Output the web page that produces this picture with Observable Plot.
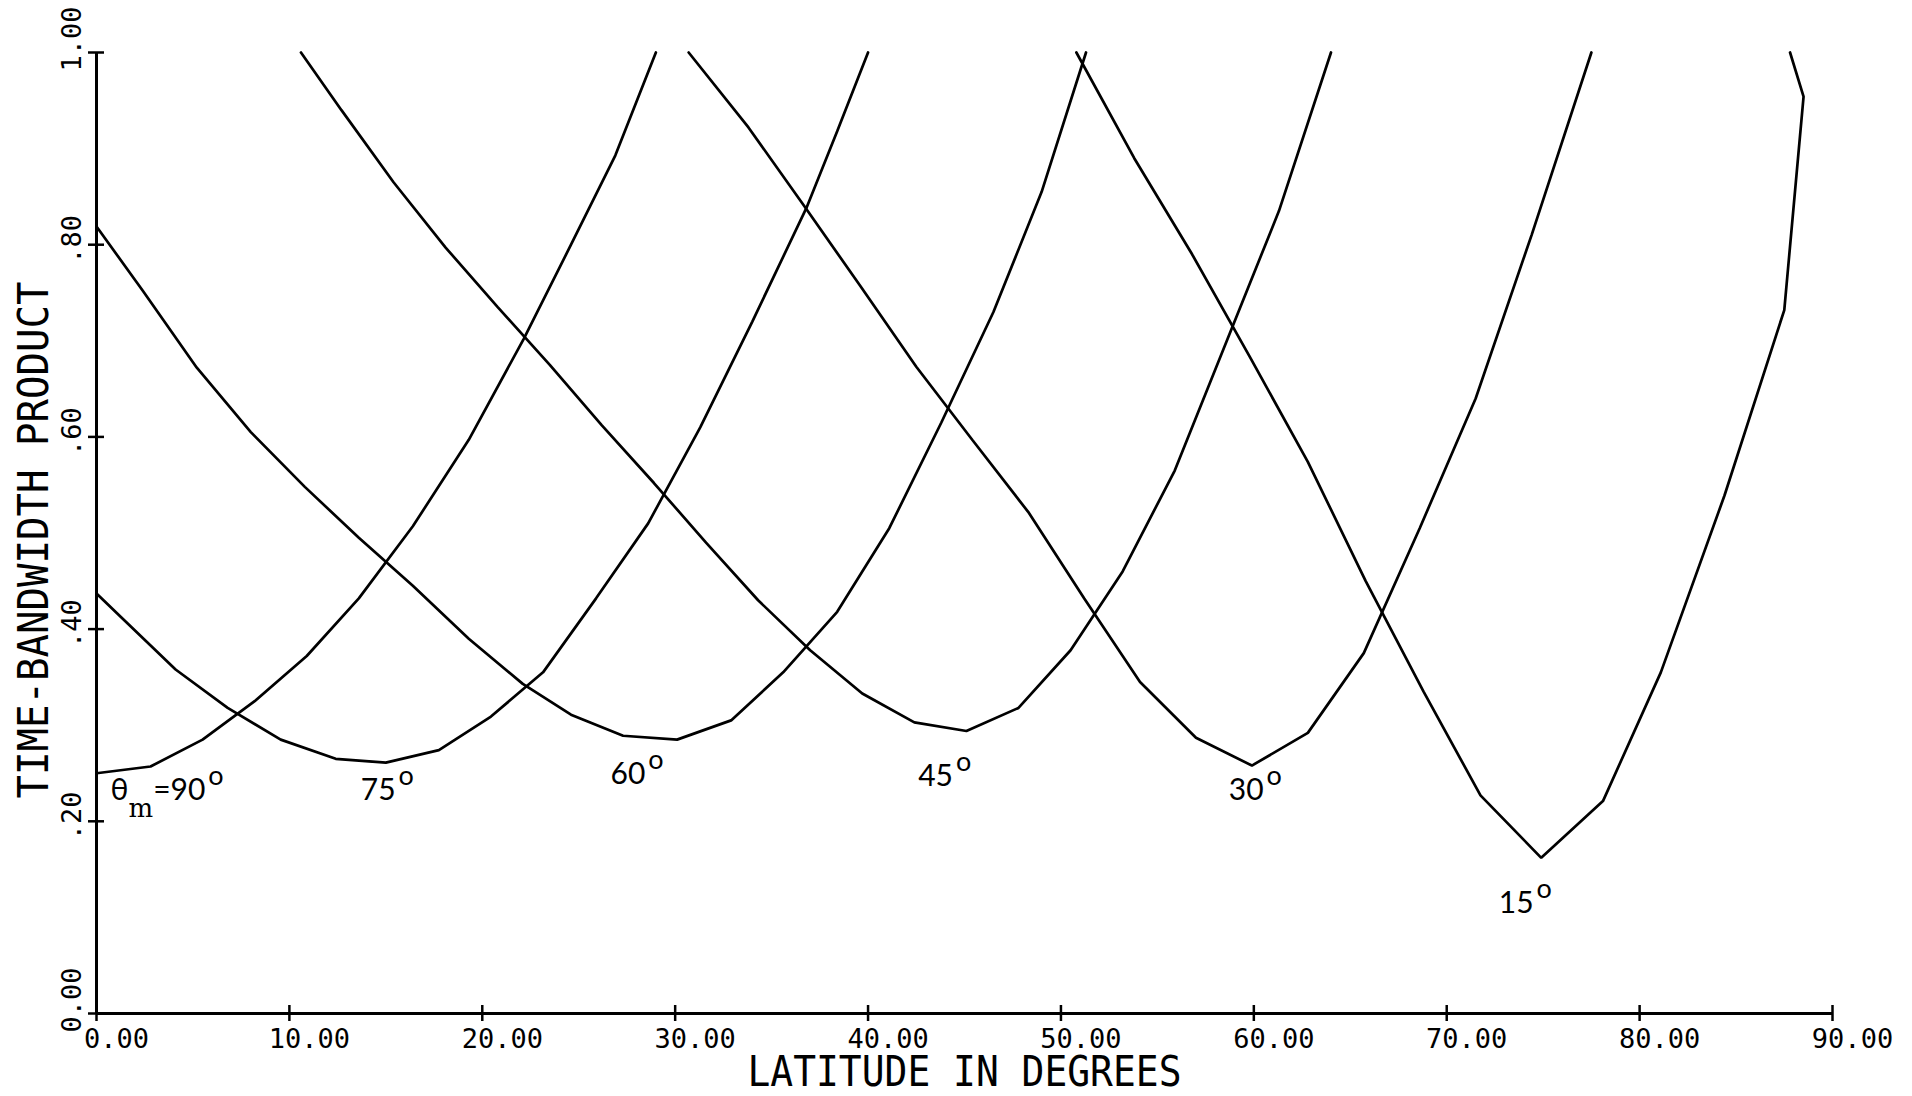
<!DOCTYPE html>
<html>
<head>
<meta charset="utf-8">
<script src="https://cdn.jsdelivr.net/npm/d3@7"></script>
<script src="https://cdn.jsdelivr.net/npm/@observablehq/plot@0.6"></script>
<style>
  html, body { margin: 0; padding: 0; background: #fff; overflow: hidden; }
  #chart { width: 1912px; height: 1096px; }
</style>
</head>
<body>
<div id="chart"></div>
<script>
// ---- axis ticks ----
const xTicks = [0, 10, 20, 30, 40, 50, 60, 70, 80, 90];
const xTickLabels = ["0.00", "10.00", "20.00", "30.00", "40.00", "50.00", "60.00", "70.00", "80.00", "90.00"];
const yTicks = [0, 0.2, 0.4, 0.6, 0.8, 1.0];
const yTickLabels = ["0.00", ".20", ".40", ".60", ".80", "1.00"];
const xTitle = "LATITUDE IN DEGREES";
const yTitle = "TIME-BANDWIDTH PRODUCT";

// ---- series (theta_m) ----
const seriesNames = ["90", "75", "60", "45", "30", "15"];

const lat90 = [0, 2.8, 5.5, 8.2, 10.9, 13.6, 16.4, 19.3, 22.15, 24.6, 26.9, 29.0];
const tbp90 = [0.250, 0.257, 0.285, 0.325, 0.372, 0.432, 0.507, 0.597, 0.702, 0.800, 0.893, 1.000];

const lat75 = [0, 1.4, 4.1, 6.8, 9.55, 12.4, 15.0, 17.75, 20.45, 23.15, 25.9, 28.6, 31.3, 34.0, 36.8, 38.4, 40.0];
const tbp75 = [0.437, 0.410, 0.358, 0.318, 0.285, 0.265, 0.261, 0.274, 0.309, 0.355, 0.432, 0.510, 0.610, 0.720, 0.838, 0.918, 1.000];

const lat60 = [0, 2.4, 5.2, 8.0, 10.8, 13.6, 16.4, 19.3, 22.1, 24.6, 27.3, 30.1, 32.9, 35.6, 38.4, 41.1, 43.8, 46.5, 49.0, 51.3];
const tbp60 = [0.819, 0.752, 0.672, 0.605, 0.548, 0.495, 0.445, 0.390, 0.343, 0.311, 0.289, 0.285, 0.305, 0.355, 0.418, 0.505, 0.615, 0.730, 0.855, 1.000];

const lat45 = [10.6, 12.7, 15.4, 18.1, 20.8, 23.5, 26.2, 28.9, 31.6, 34.3, 37.0, 39.7, 42.4, 45.1, 47.8, 50.5, 53.2, 55.9, 58.6, 61.3, 64.0];
const tbp45 = [1.000, 0.940, 0.865, 0.797, 0.735, 0.675, 0.612, 0.552, 0.490, 0.430, 0.378, 0.333, 0.303, 0.294, 0.318, 0.378, 0.460, 0.565, 0.700, 0.835, 1.000];

const lat30 = [30.7, 33.8, 36.7, 39.6, 42.5, 45.4, 48.3, 51.2, 54.1, 57.0, 59.9, 62.8, 65.7, 68.6, 71.5, 74.4, 77.5];
const tbp30 = [1.000, 0.922, 0.840, 0.757, 0.673, 0.597, 0.522, 0.432, 0.345, 0.287, 0.258, 0.292, 0.375, 0.505, 0.640, 0.810, 1.000];

const lat15 = [50.8, 53.8, 56.8, 59.8, 62.8, 65.8, 68.8, 71.75, 74.9, 78.1, 81.1, 84.4, 87.5, 88.5, 87.8];
const tbp15 = [1.000, 0.890, 0.790, 0.683, 0.574, 0.450, 0.335, 0.227, 0.162, 0.221, 0.355, 0.539, 0.732, 0.954, 1.000];

// ---- curve labels ----
const labelText = ["θm=90", "75", "60", "45", "30", "15"];
const labelLat = [0.73, 13.7, 26.65, 42.6, 58.7, 72.7];
const labelTbp = [0.222, 0.222, 0.239, 0.237, 0.222, 0.105];

// ---- build tables ----
const lats = [lat90, lat75, lat60, lat45, lat30, lat15];
const tbps = [tbp90, tbp75, tbp60, tbp45, tbp30, tbp15];
const rows = seriesNames.flatMap((name, s) =>
  lats[s].map((lat, i) => ({series: name, lat, tbp: tbps[s][i]})));
const labels = labelText.map((t, i) => ({text: t, lat: labelLat[i], tbp: labelTbp[i]}));

const mono = "'DejaVu Sans Mono', 'Liberation Mono', monospace";
const labelFont = "Lato, 'Open Sans', 'DejaVu Sans', sans-serif";

const plot = Plot.plot({
  width: 1912,
  height: 1096,
  marginLeft: 96,
  marginRight: 80,
  marginTop: 52,
  marginBottom: 83,
  style: {background: "#fff", color: "#000", fontFamily: mono, fontSize: "26px"},
  x: {domain: [0, 90]},
  y: {domain: [0, 1]},
  marks: [
    // axis lines
    Plot.ruleX([0], {stroke: "#000", strokeWidth: 3}),
    Plot.ruleY([0], {stroke: "#000", strokeWidth: 3}),
    // crossing tick marks
    Plot.axisX({ticks: xTicks, tickSize: 16, dy: -8, fill: "none", strokeWidth: 2.5, label: null}),
    Plot.axisY({ticks: yTicks, tickSize: 16, dx: 8, fill: "none", strokeWidth: 2.5, label: null}),
    // tick labels
    Plot.axisX({
      ticks: xTicks, tickSize: 0, tickPadding: 15, dx: 20,
      tickFormat: d => xTickLabels[xTicks.indexOf(d)],
      fontSize: 27, fontFamily: mono, label: null
    }),
    Plot.axisY({
      ticks: yTicks, tickSize: 0, tickPadding: 16, tickRotate: -90,
      textAnchor: "start", lineAnchor: "bottom", dy: 19,
      tickFormat: d => yTickLabels[yTicks.indexOf(d)],
      fontSize: 27, fontFamily: mono, label: null
    }),
    // curves
    Plot.line(rows, {x: "lat", y: "tbp", z: "series", stroke: "#000", strokeWidth: 2.7, strokeLinejoin: "miter"}),
    // curve labels
    Plot.text(labels, {
      x: "lat", y: "tbp", text: "text", textAnchor: "start", lineAnchor: "bottom",
      fontSize: 30, fontFamily: labelFont, fill: "#000"
    }),
    // axis titles
    Plot.text([xTitle], {frameAnchor: "bottom", textAnchor: "middle", dy: 72, lineAnchor: "bottom", fontSize: 43, fontFamily: mono, fill: "#000"}),
    Plot.text([yTitle], {frameAnchor: "left", textAnchor: "middle", rotate: -90, dx: -49, dy: 7, lineAnchor: "bottom", fontSize: 43, fontFamily: mono, fill: "#000"})
  ]
});

// Typeset: theta with subscript m, superscript degree circles, condensed titles
const svg = d3.select(plot);
const labelSet = new Set(labelText);
svg.selectAll("text").each(function () {
  const t = this.textContent;
  const sel = d3.select(this);
  if (labelSet.has(t) && this.childElementCount === 0) {
    sel.text(null);
    if (t.startsWith("θm")) {
      sel.append("tspan").text("θ");
      sel.append("tspan").attr("dy", 17).attr("font-size", 26)
        .attr("font-family", "'DejaVu Serif', 'Liberation Serif', serif").text("m");
      sel.append("tspan").attr("dy", -17).text(t.slice(2));
    } else {
      sel.append("tspan").text(t);
    }
    sel.append("tspan").attr("dy", -15).attr("dx", 3).attr("font-size", 27).text("o");
  } else if (t === xTitle) {
    sel.attr("textLength", 434).attr("lengthAdjust", "spacingAndGlyphs");
  } else if (t === yTitle) {
    sel.attr("textLength", 517).attr("lengthAdjust", "spacingAndGlyphs");
  }
});

document.getElementById("chart").appendChild(plot);
</script>
</body>
</html>
